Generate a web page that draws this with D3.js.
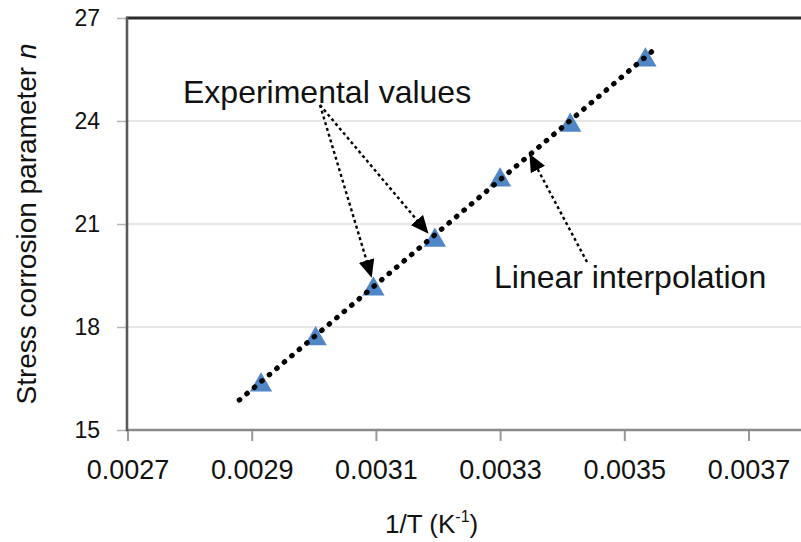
<!DOCTYPE html>
<html lang="en">
<head>
<meta charset="UTF-8">
<title>Stress corrosion parameter</title>
<script src="https://d3js.org/d3.v7.min.js"></script>
<style>
  body { margin: 0; background: #fff; }
  svg { display: block; font-family: "Liberation Sans", Arial, Helvetica, sans-serif; }
</style>
</head>
<body>
<div id="chart"></div>
<script>
// values (1/T in K^-1, n)
const invT = [0.002915, 0.003003, 0.003096, 0.003195, 0.0033, 0.003413, 0.003534];
const nValues = [16.4, 17.75, 19.2, 20.62, 22.37, 23.97, 25.87];
const xTicks = [0.0027, 0.0029, 0.0031, 0.0033, 0.0035, 0.0037];
const yTicks = [15, 18, 21, 24, 27];
const trendRange = [0.00288, 0.00355];

const W = 801, H = 542;
const plotLeft = 127, plotTop = 18, plotBottom = 430;

const svg = d3.select("#chart").append("svg")
    .attr("width", W)
    .attr("height", H);

const x = d3.scaleLinear().domain([0.0027, 0.0039]).range([plotLeft + 0.5, plotLeft + 0.5 + 621 * 1.2]);
const y = d3.scaleLinear().domain([15, 27]).range([plotBottom, plotTop]);

// gridlines
svg.append("g")
    .selectAll("line")
    .data(yTicks.filter(d => d > 15 && d < 27))
    .join("line")
    .attr("x1", plotLeft).attr("x2", W)
    .attr("y1", d => y(d)).attr("y2", d => y(d))
    .attr("stroke", "#cfcfcf")
    .attr("stroke-width", 1.2);

// y axis
const yAxis = svg.append("g")
    .attr("transform", `translate(${plotLeft},0)`)
    .call(d3.axisLeft(y).tickValues(yTicks).tickSize(10).tickPadding(17).tickFormat(d3.format("d")));
yAxis.select(".domain").remove();
yAxis.selectAll(".tick line").attr("stroke", "#b5b5b5").attr("stroke-width", 1.5);
yAxis.selectAll(".tick text").attr("font-size", 23).attr("fill", "#111");

// x axis
const xAxis = svg.append("g")
    .attr("transform", `translate(0,${plotBottom})`)
    .call(d3.axisBottom(x).tickValues(xTicks).tickSize(11).tickPadding(19).tickFormat(d3.format(".4f")));
xAxis.select(".domain").remove();
xAxis.selectAll(".tick line").attr("stroke", "#999").attr("stroke-width", 2);
xAxis.selectAll(".tick text").attr("font-size", 27).attr("fill", "#111");

// frame lines
svg.append("line")
    .attr("x1", plotLeft).attr("x2", W).attr("y1", plotBottom).attr("y2", plotBottom)
    .attr("stroke", "#8a8a8a").attr("stroke-width", 2.5);
svg.append("line")
    .attr("x1", plotLeft).attr("x2", W).attr("y1", plotTop).attr("y2", plotTop)
    .attr("stroke", "#2a2a2a").attr("stroke-width", 2.8);
svg.append("line")
    .attr("x1", plotLeft).attr("x2", plotLeft).attr("y1", plotTop - 1.4).attr("y2", plotBottom + 1.2)
    .attr("stroke", "#5a5a5a").attr("stroke-width", 2.6);

// linear fit through the points
const mx = d3.mean(invT), my = d3.mean(nValues);
const slope = d3.sum(invT, (d, i) => (d - mx) * (nValues[i] - my)) / d3.sum(invT, d => (d - mx) ** 2);
const fit = v => my + slope * (v - mx);

// markers
const triSize = 215;
const tri = d3.symbol().type(d3.symbolTriangle).size(triSize);
const triShift = Math.sqrt(triSize / (3 * Math.sqrt(3))) / 2;
svg.append("g")
    .selectAll("path")
    .data(invT.map((d, i) => [d, nValues[i]]))
    .join("path")
    .attr("d", tri)
    .attr("transform", d => `translate(${x(d[0])},${y(d[1]) + triShift})`)
    .attr("fill", "#4f86c6");

// trend line
svg.append("line")
    .attr("x1", x(trendRange[0])).attr("y1", y(fit(trendRange[0])))
    .attr("x2", x(trendRange[1])).attr("y2", y(fit(trendRange[1])))
    .attr("stroke", "#000")
    .attr("stroke-width", 5.2)
    .attr("stroke-linecap", "round")
    .attr("stroke-dasharray", "0.6 9.2");

// arrow heads
svg.append("defs").append("marker")
    .attr("id", "head")
    .attr("markerUnits", "userSpaceOnUse")
    .attr("viewBox", "0 0 18 16")
    .attr("markerWidth", 18).attr("markerHeight", 16)
    .attr("refX", 17).attr("refY", 8)
    .attr("orient", "auto")
    .append("path")
    .attr("d", "M0,0 L18,8 L0,16 Z")
    .attr("fill", "#000");

function arrow(x1, y1, x2, y2) {
    svg.append("line")
        .attr("x1", x1).attr("y1", y1).attr("x2", x2).attr("y2", y2)
        .attr("stroke", "#000")
        .attr("stroke-width", 2.4)
        .attr("stroke-dasharray", "3 3")
        .attr("marker-end", "url(#head)");
}

arrow(320, 105, x(invT[3]) - 7, y(nValues[3]) - 4);
arrow(320, 105, x(invT[2]) - 2, y(nValues[2]) - 9);
arrow(587, 262, x(0.003348), y(fit(0.003348)));

// annotations
svg.append("text")
    .attr("x", 183).attr("y", 103)
    .attr("font-size", 32)
    .attr("fill", "#111")
    .text("Experimental values");
svg.append("text")
    .attr("x", 494).attr("y", 288)
    .attr("font-size", 32)
    .attr("fill", "#111")
    .text("Linear interpolation");

// axis titles
const yTitle = svg.append("text")
    .attr("transform", `translate(36,${(plotTop + plotBottom) / 2}) rotate(-90)`)
    .attr("text-anchor", "middle")
    .attr("font-size", 28)
    .attr("fill", "#111");
yTitle.append("tspan").text("Stress corrosion parameter ");
yTitle.append("tspan").attr("font-style", "italic").text("n");

const xTitle = svg.append("text")
    .attr("x", 385).attr("y", 533)
    .attr("font-size", 26)
    .attr("fill", "#111");
xTitle.append("tspan").text("1/T (K");
xTitle.append("tspan").attr("font-size", 16).attr("dy", -11).text("-1");
xTitle.append("tspan").attr("dy", 11).text(")");
</script>
</body>
</html>
